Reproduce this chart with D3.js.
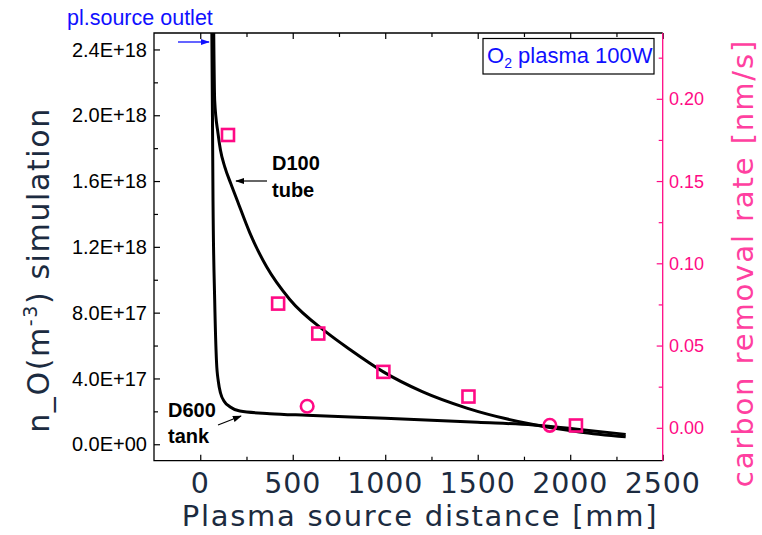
<!DOCTYPE html>
<html>
<head>
<meta charset="utf-8">
<script src="https://cdn.jsdelivr.net/npm/d3@7"></script>
<style>
  html, body { margin: 0; padding: 0; background: #fff; }
  svg { display: block; }
</style>
</head>
<body>
<svg id="chart" width="762" height="535"></svg>
<script>
// Simulated atomic-oxygen density along the distance from the plasma source
const tubeDist = [72, 78, 96, 109, 133, 165, 199, 268, 358, 484, 683, 809, 990, 1200, 1441, 1800, 2050, 2300];
const tubeDens = [2.6e18, 2.09e18, 1.89e18, 1.79e18, 1.685e18, 1.585e18, 1.485e18, 1.285e18, 1.08e18, 0.88e18, 0.68e18, 0.576e18, 0.44e18, 0.32e18, 0.22e18, 0.12e18, 0.075e18, 0.045e18];

const tankDist = [62, 66, 69, 78, 88, 98, 110, 130, 160, 214, 376, 575, 1000, 1500, 1800, 2050, 2300];
const tankDens = [2.6e18, 2.0e18, 1.48e18, 0.88e18, 0.5e18, 0.38e18, 0.31e18, 0.26e18, 0.228e18, 0.202e18, 0.186e18, 0.176e18, 0.158e18, 0.133e18, 0.117e18, 0.09e18, 0.06e18];

// Measured carbon removal rates
const squareDist = [150, 421, 638, 990, 1450, 2031];
const squareRate = [0.178, 0.0755, 0.0573, 0.034, 0.019, 0.0014];
const circleDist = [578, 1890];
const circleRate = [0.0131, 0.0015];

// Axis ticks
const xTicks = [0, 500, 1000, 1500, 2000, 2500];
const xMinorTicks = [250, 750, 1250, 1750, 2250];
const yTicks = [0, 4e17, 8e17, 1.2e18, 1.6e18, 2.0e18, 2.4e18];
const yTickLabels = ["0.0E+00", "4.0E+17", "8.0E+17", "1.2E+18", "1.6E+18", "2.0E+18", "2.4E+18"];
const yMinorTicks = [2e17, 6e17, 1.0e18, 1.4e18, 1.8e18, 2.2e18];
const rTicks = [0, 0.05, 0.10, 0.15, 0.20];
const rTickLabels = ["0.00", "0.05", "0.10", "0.15", "0.20"];
const rMinorTicks = [0.025, 0.075, 0.125, 0.175, 0.225];

const plotL = 154, plotR = 662.7, plotT = 33, plotB = 460.7;
const navy = "#1c2b40", pink = "#ff0a85", pinkTitle = "#ff40a0", blue = "#1010ff";
const numFont = "'Liberation Sans', Arial, sans-serif";
const bigFont = "'DejaVu Sans', Verdana, sans-serif";

const svg = d3.select("#chart");

const x = d3.scaleLinear().domain([-250, 2500]).range([plotL, plotR]);
const y = d3.scaleLinear().domain([-1e17, 2.5e18]).range([plotB, plotT]);
const yr = d3.scaleLinear().domain([-0.02, 0.24]).range([plotB, plotT]);

const defs = svg.append("defs");
defs.append("clipPath").attr("id", "plotClip")
  .append("rect").attr("x", plotL).attr("y", plotT)
  .attr("width", plotR - plotL).attr("height", plotB - plotT);
function arrowMarker(id, color) {
  defs.append("marker").attr("id", id)
    .attr("viewBox", "0 0 10 10").attr("refX", 9).attr("refY", 5)
    .attr("markerWidth", 9).attr("markerHeight", 9)
    .attr("markerUnits", "userSpaceOnUse")
    .attr("orient", "auto")
    .append("path").attr("d", "M0,1.5 L10,5 L0,8.5 Z").attr("fill", color);
}
arrowMarker("arrBlack", "#000");
arrowMarker("arrBlue", blue);

// Axes with inward ticks
function styleAxis(g, color) {
  g.select(".domain").remove();
  g.selectAll("line").attr("stroke", color).attr("stroke-width", 1.2);
}
function addAxis(axisFn, scale, pos, values, size, color, isX) {
  const g = svg.append("g")
    .attr("transform", isX ? `translate(0,${pos})` : `translate(${pos},0)`)
    .call(axisFn(scale).tickValues(values).tickSize(size).tickFormat(""));
  styleAxis(g, color);
}
addAxis(d3.axisBottom, x, plotB, xTicks, -6, "#000", true);
addAxis(d3.axisBottom, x, plotB, xMinorTicks, -4, "#000", true);
addAxis(d3.axisTop, x, plotT, xTicks, -6, "#000", true);
addAxis(d3.axisTop, x, plotT, xMinorTicks, -4, "#000", true);
addAxis(d3.axisLeft, y, plotL, yTicks, -6, "#000", false);
addAxis(d3.axisLeft, y, plotL, yMinorTicks, -4, "#000", false);
addAxis(d3.axisRight, yr, plotR, rTicks, -6, pink, false);
addAxis(d3.axisRight, yr, plotR, rMinorTicks, -4, pink, false);

// Frame
svg.append("path").attr("d", `M${plotR},${plotT} L${plotL},${plotT} L${plotL},${plotB} L${plotR},${plotB}`)
  .attr("fill", "none").attr("stroke", "#000").attr("stroke-width", 1.3);
svg.append("line").attr("x1", plotR).attr("x2", plotR).attr("y1", plotT).attr("y2", plotB)
  .attr("stroke", pink).attr("stroke-width", 1.3);

// Tick labels
svg.append("g").selectAll("text").data(xTicks).join("text")
  .attr("x", d => x(d)).attr("y", 493)
  .attr("text-anchor", "middle")
  .attr("font-family", bigFont).attr("font-size", 28.5).attr("letter-spacing", 0.8)
  .attr("fill", navy).text(d => d);
svg.append("g").selectAll("text").data(yTicks).join("text")
  .attr("x", 147).attr("y", d => y(d)).attr("dy", "0.36em")
  .attr("text-anchor", "end")
  .attr("font-family", numFont).attr("font-size", 20)
  .attr("fill", "#000").text((d, i) => yTickLabels[i]);
svg.append("g").selectAll("text").data(rTicks).join("text")
  .attr("x", 669).attr("y", d => yr(d)).attr("dy", "0.36em")
  .attr("text-anchor", "start")
  .attr("font-family", numFont).attr("font-size", 18)
  .attr("fill", pink).text((d, i) => rTickLabels[i]);

// Axis titles
svg.append("text").attr("x", 420).attr("y", 526)
  .attr("text-anchor", "middle")
  .attr("font-family", bigFont).attr("font-size", 29).attr("letter-spacing", 1.7)
  .attr("fill", navy).text("Plasma source distance [mm]");

const lt = svg.append("text")
  .attr("transform", "translate(49,270) rotate(-90)")
  .attr("text-anchor", "middle")
  .attr("font-family", bigFont).attr("font-size", 30).attr("letter-spacing", 1.6)
  .attr("fill", navy);
lt.append("tspan").text("n_O(m");
lt.append("tspan").attr("font-size", 19).attr("dy", -12).text("-3");
lt.append("tspan").attr("dy", 12).text(") simulation");

svg.append("text")
  .attr("transform", "translate(753,263) rotate(-90)")
  .attr("text-anchor", "middle")
  .attr("font-family", bigFont).attr("font-size", 29).attr("letter-spacing", 1.9)
  .attr("fill", pinkTitle).text("carbon removal rate [nm/s]");

// Simulation curves
const line = d3.line().curve(d3.curveMonotoneX)
  .x(d => x(d[0])).y(d => y(d[1]));
const curves = svg.append("g").attr("clip-path", "url(#plotClip)");
curves.append("path").datum(d3.zip(tankDist, tankDens))
  .attr("d", line).attr("fill", "none").attr("stroke", "#000").attr("stroke-width", 3);
curves.append("path").datum(d3.zip(tubeDist, tubeDens))
  .attr("d", line).attr("fill", "none").attr("stroke", "#000").attr("stroke-width", 3);

// Measured removal rates
const sq = 12;
svg.append("g").selectAll("rect").data(d3.zip(squareDist, squareRate)).join("rect")
  .attr("x", d => x(d[0]) - sq / 2).attr("y", d => yr(d[1]) - sq / 2)
  .attr("width", sq).attr("height", sq)
  .attr("fill", "none").attr("stroke", pink).attr("stroke-width", 2.6);
svg.append("g").selectAll("circle").data(d3.zip(circleDist, circleRate)).join("circle")
  .attr("cx", d => x(d[0])).attr("cy", d => yr(d[1])).attr("r", 6.3)
  .attr("fill", "none").attr("stroke", pink).attr("stroke-width", 2.6);

// Annotations
svg.append("text").attr("x", 67).attr("y", 25)
  .attr("font-family", numFont).attr("font-size", 21.5)
  .attr("fill", blue).text("pl.source outlet");
svg.append("line").attr("x1", 178).attr("y1", 42).attr("x2", 209).attr("y2", 42)
  .attr("stroke", blue).attr("stroke-width", 1.3).attr("marker-end", "url(#arrBlue)");

svg.append("rect").attr("x", 483).attr("y", 38.5).attr("width", 171).attr("height", 35.5)
  .attr("fill", "#fff").attr("stroke", "#000").attr("stroke-width", 1.2);
const lbl = svg.append("text").attr("x", 487).attr("y", 63)
  .attr("font-family", numFont).attr("font-size", 22).attr("fill", blue);
lbl.append("tspan").text("O");
lbl.append("tspan").attr("font-size", 14).attr("dy", 5).text("2");
lbl.append("tspan").attr("dy", -5).text(" plasma 100W");

const boldLbl = (tx, ty, s) => svg.append("text").attr("x", tx).attr("y", ty)
  .attr("font-family", numFont).attr("font-size", 20).attr("font-weight", "bold")
  .attr("fill", "#000").text(s);
boldLbl(272, 170, "D100");
boldLbl(272, 197, "tube");
svg.append("line").attr("x1", 267).attr("y1", 181).attr("x2", 236).attr("y2", 181)
  .attr("stroke", "#000").attr("stroke-width", 1.2).attr("marker-end", "url(#arrBlack)");
boldLbl(168, 417, "D600");
boldLbl(168, 443, "tank");
svg.append("line").attr("x1", 218).attr("y1", 425).attr("x2", 241).attr("y2", 416)
  .attr("stroke", "#000").attr("stroke-width", 1.2).attr("marker-end", "url(#arrBlack)");
</script>
</body>
</html>
